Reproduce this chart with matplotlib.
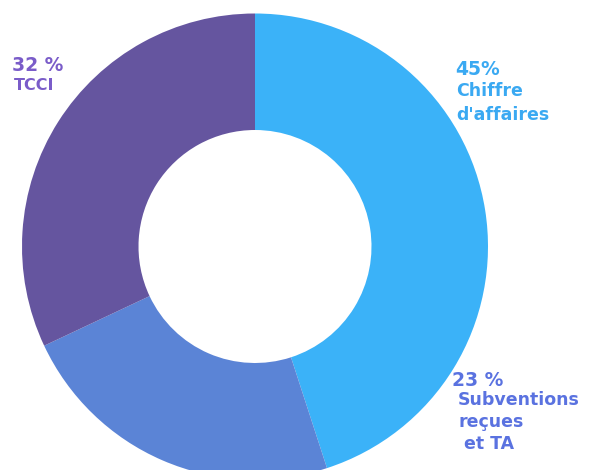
import matplotlib.pyplot as plt

# Répartition des ressources (%)
categories = ["Chiffre\nd'affaires", "Subventions\nreçues\n et TA", "TCCI"]
shares = [45, 23, 32]
pct_labels = ["45%", "23 %", "32 %"]
slice_colors = ["#3bb2f8", "#5b84d6", "#65559f"]
text_colors = ["#3aa9f2", "#5a72e0", "#7a5cc9"]

W, H = 592, 470
fig = plt.figure(figsize=(W / 100, H / 100), dpi=100)
ax = fig.add_axes([0, 0, 1, 1])

# donut: centre at (255, 246.5) px, outer radius 233 px
cx, cy, r = 255, 246.5, 233
ax.pie(shares, colors=slice_colors, startangle=90, counterclock=False,
       radius=1, wedgeprops=dict(width=0.5, edgecolor='none'))
ax.set_xlim(-cx / r, (W - cx) / r)
ax.set_ylim(-(H - cy) / r, cy / r)
ax.set_aspect('auto')
ax.axis('off')

plt.rcParams['font.family'] = ['DejaVu Sans']

def px_text(x, y, s, color, size):
    fig.text(x / W, 1 - y / H, s, color=color, fontsize=size,
             fontweight='bold', ha='left', va='baseline')

# (x, baseline y, size) of the percentage, then first line of the label
anchors = [(455, 75, 456, 96, 24, 12.5), (452, 386, 458, 405, 22, 12.5),
           (12, 71, 14, 90, 16, 11.5)]
for i, (px, py, lx, ly, step, size) in enumerate(anchors):
    px_text(px, py, pct_labels[i], text_colors[i], 13.5)
    for j, line in enumerate(categories[i].split("\n")):
        px_text(lx, ly + j * step, line, text_colors[i], size)

fig.savefig("out.png", dpi=100, facecolor='white')
